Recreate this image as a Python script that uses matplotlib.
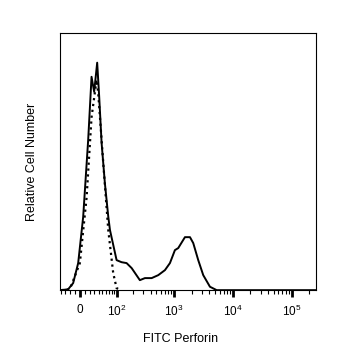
import matplotlib.pyplot as plt
import numpy as np

plt.rcParams['font.family'] = ['Liberation Sans', 'DejaVu Sans']
plt.rcParams['mathtext.fontset'] = 'custom'
plt.rcParams['mathtext.rm'] = 'Liberation Sans'
plt.rcParams['mathtext.it'] = 'Liberation Sans'

# Histograma FITC Perforin (amostra corada vs controle)
corado_x = [-40, -23.7, -13.3, -3.3, 6.5, 16.6, 23.7, 29.5, 36.6, 41.6, 47.9, 57.2,
            67.9, 73.7, 99.5, 123, 152, 187, 260, 318, 415, 538, 700, 852, 1036,
            1180, 1535, 1870, 2125, 2585, 3145, 4090, 5325, 10000, 262000]
corado_y = [0, 0.4, 3.1, 11.9, 32.2, 66.1, 93.8, 87.2, 100, 85.0, 64.8, 47.1,
            32.3, 26.4, 13.2, 12.3, 11.9, 9.7, 4.4, 5.3, 5.3, 6.6, 8.8, 11.9, 17.6,
            18.5, 23.3, 23.3, 20.7, 13.2, 6.6, 1.5, 0, 0, 0]

controle_x = [-40, -20.1, 0, 13.3, 23.7, 35.1, 39.1, 52.3, 67.9, 85.6, 99.5, 120]
controle_y = [0, 0.4, 11.9, 40.6, 76.0, 92.5, 86.8, 56.4, 26.4, 7.5, 0.9, 0]

ticks_maiores = [0, 100, 1000, 10000, 100000]
rotulos = ['0', '$10^2$', '$10^3$', '$10^4$', '$10^5$']
ticks_menores = [-40, -30, -20, -10, 10, 20, 30, 40, 50, 60, 70, 80, 90]
for d in [100, 1000, 10000, 100000]:
    ticks_menores += [d * k for k in range(2, 10)]
ticks_menores = [t for t in ticks_menores if t < 262000]

fig = plt.figure(figsize=(3.37, 3.6), dpi=100)
ax = fig.add_axes([0.178, 0.194, 0.760, 0.714])
ax.plot(corado_x, corado_y, color='black', lw=1.4)
ax.plot(controle_x, controle_y, color='black', lw=1.6, linestyle=':')
ax.set_xscale('asinh', linear_width=50)
ax.set_xlim(-43, 262000)
ax.set_ylim(0, 113)
ax.set_xticks(ticks_maiores)
ax.set_xticklabels(rotulos, fontsize=8.5)
ax.set_xticks(ticks_menores, minor=True)
ax.tick_params(axis='x', which='major', direction='out', length=5, width=2, pad=5)
ax.tick_params(axis='x', which='minor', direction='out', length=3, width=0.8)
ax.set_yticks([])
for s in ax.spines.values():
    s.set_linewidth(0.8)
ax.set_xlabel('FITC Perforin', fontsize=9)
ax.set_ylabel('Relative Cell Number', fontsize=9)
ax.xaxis.set_label_coords(0.47, -0.165)
ax.yaxis.set_label_coords(-0.085, 0.5)
fig.savefig('out.png', dpi=100)
